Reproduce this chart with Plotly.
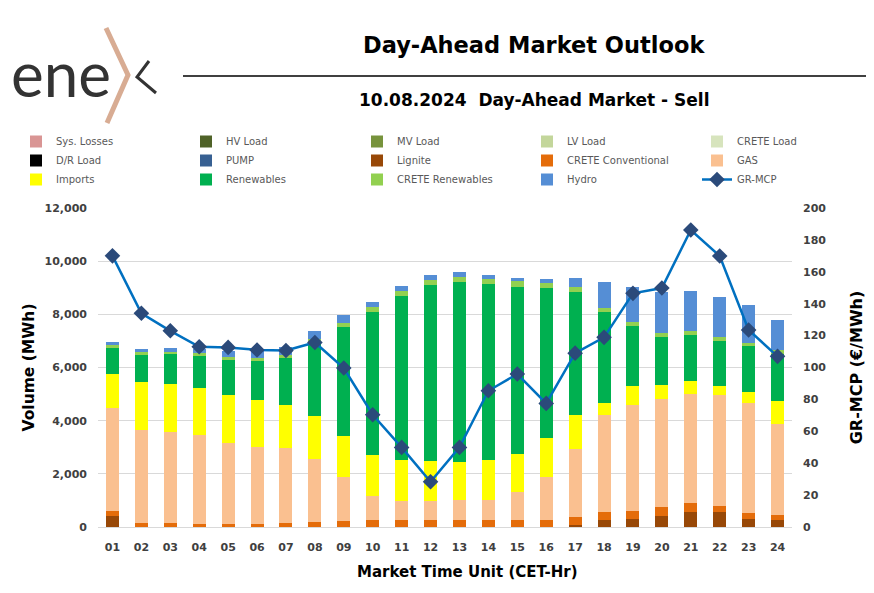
import plotly.graph_objects as go

# ---------------- data ----------------
hours = [f"{h:02d}" for h in range(1, 25)]

sys_losses = [0] * 24
hv_load = [0] * 24
mv_load = [0] * 24
lv_load = [0] * 24
crete_load = [0] * 24
dr_load = [0] * 24
pump = [0] * 24
lignite = [425, 0, 0, 0, 0, 0, 0, 0, 0, 0, 0, 0, 0, 0, 0, 0, 85, 275, 290, 425, 575, 550, 290, 275]
crete_conv = [165, 140, 140, 130, 130, 130, 140, 175, 235, 250, 250, 250, 250, 250, 250, 250, 290, 300, 310, 315, 325, 250, 225, 175]
gas = [3885, 3495, 3445, 3320, 3015, 2880, 2820, 2370, 1635, 900, 740, 740, 750, 750, 1050, 1630, 2560, 3635, 4000, 4060, 4100, 4150, 4160, 3410]
imports = [1280, 1820, 1805, 1790, 1805, 1780, 1630, 1620, 1540, 1570, 1515, 1480, 1460, 1505, 1460, 1480, 1265, 465, 705, 555, 505, 365, 400, 890]
renewables = [965, 1015, 1105, 1205, 1320, 1455, 1780, 2795, 4115, 5370, 6185, 6620, 6755, 6625, 6270, 5620, 4630, 3400, 2245, 1780, 1705, 1695, 1720, 1770]
crete_ren = [115, 100, 100, 100, 125, 125, 90, 125, 150, 185, 200, 200, 200, 200, 210, 185, 185, 160, 150, 150, 150, 150, 140, 150]
hydro = [125, 130, 125, 150, 235, 275, 325, 300, 300, 200, 165, 175, 175, 150, 140, 150, 340, 970, 1340, 1545, 1520, 1480, 1405, 1105]
gr_mcp = [170.0, 134.0, 123.0, 113.0, 112.6, 111.0, 110.7, 115.7, 99.7, 70.4, 49.9, 28.4,
          49.9, 85.4, 95.9, 77.5, 109.0, 118.9, 146.5, 149.8, 186.2, 169.9, 123.5, 107.0]

series = [
    ("Sys. Losses", sys_losses, "#D99594", "legend"),
    ("HV Load", hv_load, "#4F6228", "legend2"),
    ("MV Load", mv_load, "#77933C", "legend3"),
    ("LV Load", lv_load, "#C3D69B", "legend4"),
    ("CRETE Load", crete_load, "#D7E4BD", "legend5"),
    ("D/R Load", dr_load, "#000000", "legend"),
    ("PUMP", pump, "#376092", "legend2"),
    ("Lignite", lignite, "#984807", "legend3"),
    ("CRETE Conventional", crete_conv, "#E46C0A", "legend4"),
    ("GAS", gas, "#FAC090", "legend5"),
    ("Imports", imports, "#FFFF00", "legend"),
    ("Renewables", renewables, "#00B050", "legend2"),
    ("CRETE Renewables", crete_ren, "#92D050", "legend3"),
    ("Hydro", hydro, "#558ED5", "legend4"),
]

# ---------------- layout constants ----------------
W, H = 874, 593
OFF = 8  # page body margin offset of the rendered figure
L, R, T, B = 90, 90, 200, 74
PW, PH = W - L - R, H - T - B


def px(x):
    # screen x -> paper x
    return (x - OFF - L) / PW


def py(y):
    # screen y -> paper y
    return (H - B - (y - OFF)) / PH


FONT = "DejaVu Sans"
TICK_COL = "#404040"

fig = go.Figure()
for name, vals, col, lg in series:
    fig.add_trace(go.Bar(
        x=hours, y=vals, name=name, marker=dict(color=col, line=dict(width=0)),
        legend=lg, legendgroup=name,
    ))

fig.add_trace(go.Scatter(
    x=hours, y=gr_mcp, name="GR-MCP", yaxis="y2", mode="lines+markers",
    line=dict(color="#0070C0", width=2.5),
    marker=dict(symbol="diamond", size=12, color="#2B4A7A", line=dict(color="#2B4A7A", width=0)),
    legend="legend5", legendgroup="GR-MCP",
))

legend_cols = [16, 186, 357, 527, 697]
leg_common = dict(
    orientation="v", xanchor="left", yanchor="top", y=py(127),
    font=dict(family=FONT, size=10, color="#595959"),
    bgcolor="rgba(0,0,0,0)", traceorder="normal", tracegroupgap=3.5,
    itemclick=False, itemdoubleclick=False,
)
legends = {}
for i, cx in enumerate(legend_cols):
    key = "legend" if i == 0 else f"legend{i + 1}"
    legends[key] = dict(leg_common, x=px(cx))

fig.update_layout(
    width=W, height=H,
    margin=dict(l=L, r=R, t=T, b=B, pad=0, autoexpand=False),
    paper_bgcolor="white", plot_bgcolor="white",
    barmode="stack", bargap=0.55,
    showlegend=True,
    font=dict(family=FONT, color=TICK_COL),
    xaxis=dict(
        type="category", range=[-0.5, 23.5],
        tickfont=dict(family=FONT, size=11, color=TICK_COL, weight="bold"),
        showgrid=False, showline=True, linecolor="#D9D9D9", linewidth=1,
        ticks="", ticklabelstandoff=10, automargin=False,
    ),
    yaxis=dict(
        range=[0, 12000], dtick=2000, tickformat=",d", automargin=False,
        tickfont=dict(family=FONT, size=11, color=TICK_COL, weight="bold"),
        showgrid=True, gridcolor="#D9D9D9", gridwidth=1, zeroline=False,
        ticks="", ticklabelstandoff=10,
        title=dict(text="Volume (MWh)", font=dict(family=FONT, size=15.5, color="#000000", weight="bold"), standoff=6),
    ),
    yaxis2=dict(
        range=[0, 200], dtick=20, overlaying="y", side="right", automargin=False,
        tickfont=dict(family=FONT, size=11, color=TICK_COL, weight="bold"),
        showgrid=False, zeroline=False, ticks="", ticklabelstandoff=10,
        title=dict(text="GR-MCP (€/MWh)", font=dict(family=FONT, size=16, color="#000000", weight="bold"), standoff=25),
    ),
    **legends,
)

# x-axis title (placed to match reference position)
fig.add_annotation(x=px(467), y=py(572), xref="paper", yref="paper", text="<b>Market Time Unit (CET-Hr)</b>",
                   showarrow=False, xanchor="center", yanchor="middle",
                   font=dict(family=FONT, size=15, color="#000000"))

# titles
fig.add_annotation(x=px(534), y=py(45), xref="paper", yref="paper", text="<b>Day-Ahead Market Outlook</b>",
                   showarrow=False, xanchor="center", yanchor="middle",
                   font=dict(family=FONT, size=22.5, color="#000000"))
fig.add_annotation(x=px(534), y=py(100), xref="paper", yref="paper", text="<b>10.08.2024  Day-Ahead Market - Sell</b>",
                   showarrow=False, xanchor="center", yanchor="middle",
                   font=dict(family=FONT, size=17, color="#000000"))
fig.add_shape(type="line", xref="paper", yref="paper", x0=px(183), x1=px(874), y0=py(76), y1=py(76),
              line=dict(color="#000000", width=1.5))

# logo
fig.add_annotation(x=px(9), y=py(73), xref="paper", yref="paper", text="ene",
                   showarrow=False, xanchor="left", yanchor="middle",
                   font=dict(family="Lato", size=62, color="#333333"))
chev = f"M {px(106)},{py(28)} L {px(128)},{py(75)} L {px(107)},{py(123)}"
fig.add_shape(type="path", xref="paper", yref="paper", path=chev,
              line=dict(color="#D8AC93", width=5))
xr = f"M {px(149)},{py(61)} L {px(137)},{py(77)} L {px(156)},{py(93)}"
fig.add_shape(type="path", xref="paper", yref="paper", path=xr,
              line=dict(color="#333333", width=3))

fig.write_html("out.html")
